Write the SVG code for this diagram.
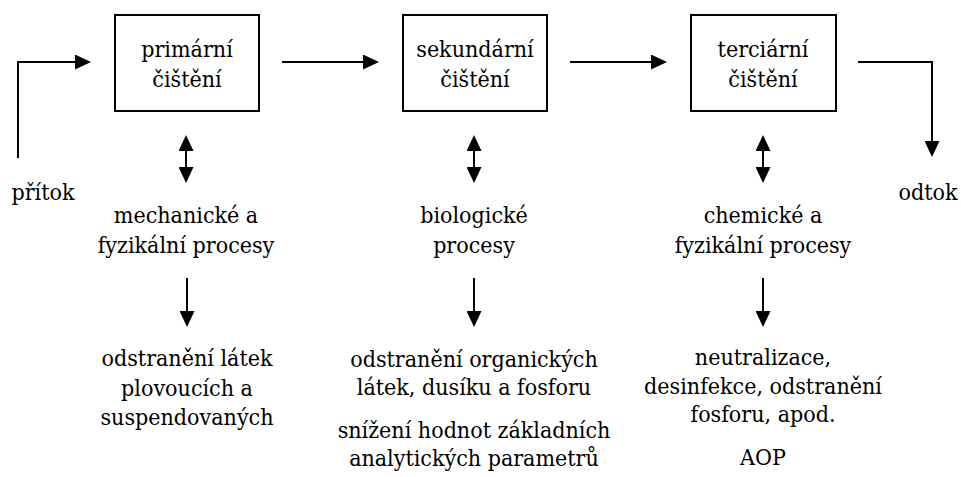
<svg xmlns="http://www.w3.org/2000/svg" width="961" height="477" viewBox="0 0 961 477">
<style>
.box{fill:#fff;stroke:#000;stroke-width:2}
.c{fill:none;stroke:#000;stroke-width:2}
.t{font-family:'DejaVu Serif Condensed','DejaVu Serif',serif;font-size:23px;fill:#000;text-anchor:middle}
</style>
<defs>
<marker id="ah" viewBox="0 0 16 15" refX="13" refY="7.5" markerWidth="16" markerHeight="15" markerUnits="userSpaceOnUse" orient="auto-start-reverse">
<path d="M0,0 L16,7.5 L0,15 Z" fill="#000"/>
</marker>
</defs>
<rect width="961" height="477" fill="#fff"/>
<g id="connectors">
<path class="c" d="M18,158 V62 H88" marker-end="url(#ah)"/>
<path class="c" d="M282,62 H376" marker-end="url(#ah)"/>
<path class="c" d="M570,62 H664" marker-end="url(#ah)"/>
<path class="c" d="M858,62 H932 V154" marker-end="url(#ah)"/>
<path class="c" d="M186,138 V180" marker-start="url(#ah)" marker-end="url(#ah)"/>
<path class="c" d="M474,138 V180" marker-start="url(#ah)" marker-end="url(#ah)"/>
<path class="c" d="M763,138 V180" marker-start="url(#ah)" marker-end="url(#ah)"/>
<path class="c" d="M187,278 V324" marker-end="url(#ah)"/>
<path class="c" d="M474,278 V324" marker-end="url(#ah)"/>
<path class="c" d="M763,278 V324" marker-end="url(#ah)"/>
</g>
<g id="primary">
<rect class="box" x="115" y="15" width="144" height="96"/>
<text class="t" x="187" y="57">primární</text>
<text class="t" x="187" y="87">čištění</text>
</g>
<g id="secondary">
<rect class="box" x="403" y="15" width="144" height="96"/>
<text class="t" x="475" y="57">sekundární</text>
<text class="t" x="475" y="87">čištění</text>
</g>
<g id="tertiary">
<rect class="box" x="691" y="15" width="145" height="96"/>
<text class="t" x="763" y="57">terciární</text>
<text class="t" x="763" y="87">čištění</text>
</g>
<g id="inflow">
<text class="t" x="43" y="200">přítok</text>
</g>
<g id="outflow">
<text class="t" x="928" y="200">odtok</text>
</g>
<g id="proc1">
<text class="t" x="186" y="223">mechanické a</text>
<text class="t" x="186" y="253">fyzikální procesy</text>
</g>
<g id="proc2">
<text class="t" x="474" y="223">biologické</text>
<text class="t" x="474" y="253">procesy</text>
</g>
<g id="proc3">
<text class="t" x="763" y="223">chemické a</text>
<text class="t" x="763" y="253">fyzikální procesy</text>
</g>
<g id="res1">
<text class="t" x="187" y="366">odstranění látek</text>
<text class="t" x="187" y="396">plovoucích a</text>
<text class="t" x="187" y="425">suspendovaných</text>
</g>
<g id="res2">
<text class="t" x="474" y="367">odstranění organických</text>
<text class="t" x="474" y="395">látek, dusíku a fosforu</text>
<text class="t" x="474" y="438">snížení hodnot základních</text>
<text class="t" x="474" y="466">analytických parametrů</text>
</g>
<g id="res3">
<text class="t" x="763" y="365">neutralizace,</text>
<text class="t" x="763" y="394">desinfekce, odstranění</text>
<text class="t" x="763" y="422">fosforu, apod.</text>
<text class="t" x="763" y="465">AOP</text>
</g>
</svg>
